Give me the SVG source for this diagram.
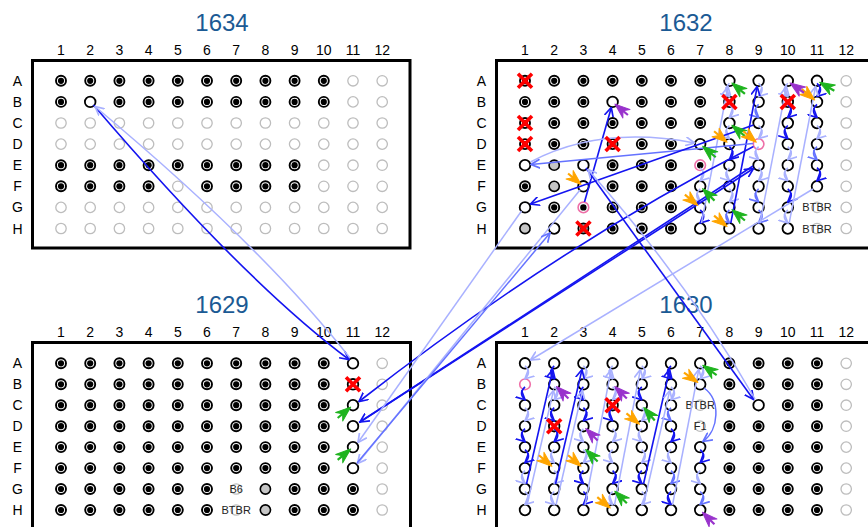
<svg xmlns="http://www.w3.org/2000/svg" width="868" height="527" viewBox="0 0 868 527">
<style>
text{font-family:"Liberation Sans",Arial,sans-serif}
.t{font-size:24px;fill:#1b5a94;text-anchor:middle}
.cl{font-size:14px;fill:#000;text-anchor:middle}
.lb{font-size:11px;fill:#222;text-anchor:middle}
.box{fill:none;stroke:#000;stroke-width:3}
#connectors path{fill:none}
.d{stroke:#1414f0;stroke-width:1.6;marker-end:url(#ad)}
.m{stroke:#6472ff;stroke-width:1.5;marker-end:url(#am)}
.l{stroke:#a9b1ff;stroke-width:1.5;marker-end:url(#al)}
.gr{fill:#1fb41f;stroke:#1fb41f}
.or{fill:#ffa500;stroke:#ffa500}
.pu{fill:#9933cc;stroke:#9933cc}
</style>
<defs>
<marker id="ad" viewBox="0 0 10 10" refX="9" refY="5" markerWidth="10" markerHeight="10" markerUnits="userSpaceOnUse" orient="auto"><path d="M0,0.5L9,5L0,9.5" fill="none" stroke="#1414f0" stroke-width="1.7"/></marker>
<marker id="am" viewBox="0 0 10 10" refX="9" refY="5" markerWidth="10" markerHeight="10" markerUnits="userSpaceOnUse" orient="auto"><path d="M0,0.5L9,5L0,9.5" fill="none" stroke="#6472ff" stroke-width="1.7"/></marker>
<marker id="al" viewBox="0 0 10 10" refX="9" refY="5" markerWidth="10" markerHeight="10" markerUnits="userSpaceOnUse" orient="auto"><path d="M0,0.5L9,5L0,9.5" fill="none" stroke="#a9b1ff" stroke-width="1.7"/></marker>
<g id="f"><circle r="5" fill="#fff" stroke="#000" stroke-width="1.9"/><circle r="3.1" fill="#000"/></g>
<circle id="o" r="5.3" fill="none" stroke="#000" stroke-width="1.8"/>
<circle id="g" r="5.2" fill="none" stroke="#bdbdbd" stroke-width="1.3"/>
<circle id="s" r="5.1" fill="#c6c6c6" stroke="#000" stroke-width="1.6"/>
<circle id="p" r="5.3" fill="none" stroke="#ee6fa8" stroke-width="1.6"/>
<g id="pd"><circle r="5.3" fill="none" stroke="#ee6fa8" stroke-width="1.6"/><circle r="3.2" fill="#000"/></g>
<path id="x" d="M-7,-7L7,7M-7,7L7,-7" stroke="#f00" stroke-width="3.6" fill="none"/>
<g id="mk"><path d="M0,0L15,-5.5L10.5,0L15,5.5Z" stroke-width="1" stroke-linejoin="round"/><path d="M2,0H17" fill="none" stroke-width="2.2"/></g>
<g id="rg"><use href="#g" x="61"/><use href="#g" x="90.2"/><use href="#g" x="119.4"/><use href="#g" x="148.6"/><use href="#g" x="177.8"/><use href="#g" x="207"/><use href="#g" x="236.2"/><use href="#g" x="265.4"/><use href="#g" x="294.6"/><use href="#g" x="323.8"/><use href="#g" x="353"/><use href="#g" x="382.2"/></g>
<g id="rf"><use href="#f" x="61"/><use href="#f" x="90.2"/><use href="#f" x="119.4"/><use href="#f" x="148.6"/><use href="#f" x="177.8"/><use href="#f" x="207"/><use href="#f" x="236.2"/><use href="#f" x="265.4"/><use href="#f" x="294.6"/><use href="#f" x="323.8"/></g>
<g id="ro"><use href="#o" x="525"/><use href="#o" x="554.2"/><use href="#o" x="583.4"/><use href="#o" x="612.6"/><use href="#o" x="641.8"/><use href="#o" x="671"/><use href="#o" x="700.2"/></g>
<g id="rf4"><use href="#f" x="729.4"/><use href="#f" x="758.6"/><use href="#f" x="787.8"/><use href="#f" x="817"/><use href="#g" x="846.2"/></g>
</defs>
<rect width="868" height="527" fill="#fff"/>

<g id="plate-1634">
<text class="t" x="222" y="30.7">1634</text>
<text class="cl" y="55"><tspan x="61">1</tspan><tspan x="90.2">2</tspan><tspan x="119.4">3</tspan><tspan x="148.6">4</tspan><tspan x="177.8">5</tspan><tspan x="207">6</tspan><tspan x="236.2">7</tspan><tspan x="265.4">8</tspan><tspan x="294.6">9</tspan><tspan x="323.8">10</tspan><tspan x="353">11</tspan><tspan x="382.2">12</tspan></text>
<text class="cl"><tspan x="17.5" y="85.8">A</tspan><tspan x="17.5" y="106.9">B</tspan><tspan x="17.5" y="128">C</tspan><tspan x="17.5" y="149.1">D</tspan><tspan x="17.5" y="170.2">E</tspan><tspan x="17.5" y="191.3">F</tspan><tspan x="17.5" y="212.4">G</tspan><tspan x="17.5" y="233.5">H</tspan></text>
<rect class="box" x="32.5" y="60.5" width="377.5" height="187.5"/>
<g transform="translate(0,80.8)"><use href="#rf"/><use href="#g" x="353"/><use href="#g" x="382.2"/></g>
<g transform="translate(0,101.9)"><use href="#f" x="61"/><use href="#o" x="90.2"/><use href="#f" x="119.4"/><use href="#f" x="148.6"/><use href="#f" x="177.8"/><use href="#f" x="207"/><use href="#f" x="236.2"/><use href="#f" x="265.4"/><use href="#f" x="294.6"/><use href="#f" x="323.8"/><use href="#g" x="353"/><use href="#g" x="382.2"/></g>
<use href="#rg" y="123"/>
<use href="#rg" y="144.1"/>
<g transform="translate(0,165.2)"><use href="#f" x="61"/><use href="#f" x="90.2"/><use href="#f" x="119.4"/><use href="#f" x="148.6"/><use href="#f" x="177.8"/><use href="#f" x="207"/><use href="#f" x="236.2"/><use href="#f" x="265.4"/><use href="#f" x="294.6"/><use href="#g" x="323.8"/><use href="#g" x="353"/><use href="#g" x="382.2"/></g>
<g transform="translate(0,186.3)"><use href="#f" x="61"/><use href="#f" x="90.2"/><use href="#f" x="119.4"/><use href="#f" x="148.6"/><use href="#g" x="177.8"/><use href="#f" x="207"/><use href="#f" x="236.2"/><use href="#f" x="265.4"/><use href="#f" x="294.6"/><use href="#g" x="323.8"/><use href="#g" x="353"/><use href="#g" x="382.2"/></g>
<use href="#rg" y="207.4"/>
<use href="#rg" y="228.5"/>
</g>

<g id="plate-1632">
<text class="t" x="686" y="30.7">1632</text>
<text class="cl" y="55"><tspan x="525">1</tspan><tspan x="554.2">2</tspan><tspan x="583.4">3</tspan><tspan x="612.6">4</tspan><tspan x="641.8">5</tspan><tspan x="671">6</tspan><tspan x="700.2">7</tspan><tspan x="729.4">8</tspan><tspan x="758.6">9</tspan><tspan x="787.8">10</tspan><tspan x="817">11</tspan><tspan x="846.2">12</tspan></text>
<text class="cl"><tspan x="481.5" y="85.8">A</tspan><tspan x="481.5" y="106.9">B</tspan><tspan x="481.5" y="128">C</tspan><tspan x="481.5" y="149.1">D</tspan><tspan x="481.5" y="170.2">E</tspan><tspan x="481.5" y="191.3">F</tspan><tspan x="481.5" y="212.4">G</tspan><tspan x="481.5" y="233.5">H</tspan></text>
<rect class="box" x="496.5" y="60.5" width="380" height="187.5"/>
<g transform="translate(0,80.8)"><use href="#f" x="525"/><use href="#f" x="554.2"/><use href="#f" x="583.4"/><use href="#f" x="612.6"/><use href="#f" x="641.8"/><use href="#f" x="671"/><use href="#f" x="700.2"/><use href="#o" x="729.4"/><use href="#o" x="758.6"/><use href="#o" x="787.8"/><use href="#o" x="817"/><use href="#g" x="846.2"/></g>
<g transform="translate(0,101.9)"><use href="#f" x="525"/><use href="#f" x="554.2"/><use href="#f" x="583.4"/><use href="#o" x="612.6"/><use href="#f" x="641.8"/><use href="#f" x="671"/><use href="#f" x="700.2"/><use href="#o" x="729.4"/><use href="#o" x="758.6"/><use href="#o" x="787.8"/><use href="#o" x="817"/><use href="#g" x="846.2"/></g>
<g transform="translate(0,123)"><use href="#f" x="525"/><use href="#f" x="554.2"/><use href="#f" x="583.4"/><use href="#f" x="612.6"/><use href="#f" x="641.8"/><use href="#f" x="671"/><use href="#f" x="700.2"/><use href="#o" x="729.4"/><use href="#o" x="758.6"/><use href="#o" x="787.8"/><use href="#o" x="817"/><use href="#g" x="846.2"/></g>
<g transform="translate(0,144.1)"><use href="#f" x="525"/><use href="#f" x="554.2"/><use href="#f" x="583.4"/><use href="#f" x="612.6"/><use href="#f" x="641.8"/><use href="#f" x="671"/><use href="#o" x="700.2"/><use href="#o" x="729.4"/><use href="#p" x="758.6"/><use href="#o" x="787.8"/><use href="#o" x="817"/><use href="#g" x="846.2"/></g>
<g transform="translate(0,165.2)"><use href="#o" x="525"/><use href="#s" x="554.2"/><use href="#o" x="583.4"/><use href="#f" x="612.6"/><use href="#f" x="641.8"/><use href="#f" x="671"/><use href="#pd" x="700.2"/><use href="#o" x="729.4"/><use href="#o" x="758.6"/><use href="#o" x="787.8"/><use href="#o" x="817"/><use href="#g" x="846.2"/></g>
<g transform="translate(0,186.3)"><use href="#f" x="525"/><use href="#s" x="554.2"/><use href="#o" x="583.4"/><use href="#f" x="612.6"/><use href="#f" x="641.8"/><use href="#f" x="671"/><use href="#o" x="700.2"/><use href="#o" x="729.4"/><use href="#o" x="758.6"/><use href="#o" x="787.8"/><use href="#o" x="817"/><use href="#g" x="846.2"/></g>
<g transform="translate(0,207.4)"><use href="#o" x="525"/><use href="#f" x="554.2"/><use href="#pd" x="583.4"/><use href="#f" x="612.6"/><use href="#f" x="641.8"/><use href="#f" x="671"/><use href="#o" x="700.2"/><use href="#o" x="729.4"/><use href="#o" x="758.6"/><use href="#o" x="787.8"/><use href="#g" x="817"/><use href="#g" x="846.2"/></g>
<g transform="translate(0,228.5)"><use href="#s" x="525"/><use href="#o" x="554.2"/><use href="#f" x="583.4"/><use href="#f" x="612.6"/><use href="#f" x="641.8"/><use href="#f" x="671"/><use href="#o" x="700.2"/><use href="#o" x="729.4"/><use href="#o" x="758.6"/><use href="#o" x="787.8"/><use href="#g" x="817"/><use href="#g" x="846.2"/></g>
<text class="lb" x="817" y="211.4">BTBR</text>
<text class="lb" x="817" y="232.5">BTBR</text>
</g>

<g id="plate-1629">
<text class="t" x="222" y="313.3">1629</text>
<text class="cl" y="337.3"><tspan x="61">1</tspan><tspan x="90.2">2</tspan><tspan x="119.4">3</tspan><tspan x="148.6">4</tspan><tspan x="177.8">5</tspan><tspan x="207">6</tspan><tspan x="236.2">7</tspan><tspan x="265.4">8</tspan><tspan x="294.6">9</tspan><tspan x="323.8">10</tspan><tspan x="353">11</tspan><tspan x="382.2">12</tspan></text>
<text class="cl"><tspan x="17.5" y="368.3">A</tspan><tspan x="17.5" y="389.3">B</tspan><tspan x="17.5" y="410.2">C</tspan><tspan x="17.5" y="431.2">D</tspan><tspan x="17.5" y="452.1">E</tspan><tspan x="17.5" y="473.1">F</tspan><tspan x="17.5" y="494">G</tspan><tspan x="17.5" y="515">H</tspan></text>
<rect class="box" x="32.5" y="342.5" width="378" height="200"/>
<g transform="translate(0,363.3)"><use href="#rf"/><use href="#o" x="353"/><use href="#g" x="382.2"/></g>
<g transform="translate(0,384.3)"><use href="#rf"/><use href="#o" x="353"/><use href="#g" x="382.2"/></g>
<g transform="translate(0,405.2)"><use href="#rf"/><use href="#o" x="353"/><use href="#g" x="382.2"/></g>
<g transform="translate(0,426.2)"><use href="#rf"/><use href="#o" x="353"/><use href="#g" x="382.2"/></g>
<g transform="translate(0,447.1)"><use href="#rf"/><use href="#o" x="353"/><use href="#g" x="382.2"/></g>
<g transform="translate(0,468.1)"><use href="#rf"/><use href="#o" x="353"/><use href="#g" x="382.2"/></g>
<g transform="translate(0,489)"><use href="#f" x="61"/><use href="#f" x="90.2"/><use href="#f" x="119.4"/><use href="#f" x="148.6"/><use href="#f" x="177.8"/><use href="#f" x="207"/><use href="#g" x="236.2"/><use href="#s" x="265.4"/><use href="#f" x="294.6"/><use href="#f" x="323.8"/><use href="#f" x="353"/><use href="#g" x="382.2"/></g>
<g transform="translate(0,510)"><use href="#f" x="61"/><use href="#f" x="90.2"/><use href="#f" x="119.4"/><use href="#f" x="148.6"/><use href="#f" x="177.8"/><use href="#f" x="207"/><use href="#g" x="236.2"/><use href="#s" x="265.4"/><use href="#f" x="294.6"/><use href="#f" x="323.8"/><use href="#f" x="353"/><use href="#g" x="382.2"/></g>
<text class="lb" x="236.2" y="493">B6</text>
<text class="lb" x="236.2" y="514">BTBR</text>
</g>

<g id="plate-1630">
<text class="t" x="686" y="313.3">1630</text>
<text class="cl" y="337.3"><tspan x="525">1</tspan><tspan x="554.2">2</tspan><tspan x="583.4">3</tspan><tspan x="612.6">4</tspan><tspan x="641.8">5</tspan><tspan x="671">6</tspan><tspan x="700.2">7</tspan><tspan x="729.4">8</tspan><tspan x="758.6">9</tspan><tspan x="787.8">10</tspan><tspan x="817">11</tspan><tspan x="846.2">12</tspan></text>
<text class="cl"><tspan x="481.5" y="368.3">A</tspan><tspan x="481.5" y="389.3">B</tspan><tspan x="481.5" y="410.2">C</tspan><tspan x="481.5" y="431.2">D</tspan><tspan x="481.5" y="452.1">E</tspan><tspan x="481.5" y="473.1">F</tspan><tspan x="481.5" y="494">G</tspan><tspan x="481.5" y="515">H</tspan></text>
<rect class="box" x="496.5" y="342.5" width="380" height="200"/>
<g transform="translate(0,363.3)"><use href="#ro"/><use href="#rf4"/></g>
<g transform="translate(0,384.3)"><use href="#p" x="525"/><use href="#o" x="554.2"/><use href="#o" x="583.4"/><use href="#o" x="612.6"/><use href="#o" x="641.8"/><use href="#o" x="671"/><use href="#o" x="700.2"/><use href="#rf4"/></g>
<g transform="translate(0,405.2)"><use href="#o" x="525"/><use href="#o" x="554.2"/><use href="#o" x="583.4"/><use href="#o" x="612.6"/><use href="#o" x="641.8"/><use href="#o" x="671"/><use href="#g" x="700.2"/><use href="#f" x="729.4"/><use href="#o" x="758.6"/><use href="#f" x="787.8"/><use href="#f" x="817"/><use href="#g" x="846.2"/></g>
<g transform="translate(0,426.2)"><use href="#o" x="525"/><use href="#o" x="554.2"/><use href="#o" x="583.4"/><use href="#o" x="612.6"/><use href="#o" x="641.8"/><use href="#o" x="671"/><use href="#g" x="700.2"/><use href="#rf4"/></g>
<g transform="translate(0,447.1)"><use href="#ro"/><use href="#rf4"/></g>
<g transform="translate(0,468.1)"><use href="#ro"/><use href="#rf4"/></g>
<g transform="translate(0,489)"><use href="#ro"/><use href="#rf4"/></g>
<g transform="translate(0,510)"><use href="#ro"/><use href="#rf4"/></g>
<text class="lb" x="700.2" y="409.2">BTBR</text>
<text class="lb" x="700.2" y="430.2">F1</text>
</g>

<g id="connectors">
<path class="l" d="M525,365.8Q532,372.3 525,378.8"/>
<path class="d" d="M525,386.8Q518,393.2 525,399.7"/>
<path class="l" d="M525,407.7Q532,414.2 525,420.7"/>
<path class="d" d="M525,428.7Q518,435.1 525,441.6"/>
<path class="d" d="M525,449.6Q532,456.1 525,462.6"/>
<path class="l" d="M525,470.6Q518,477 525,483.5"/>
<path class="l" d="M525,491.5Q532,498 525,504.5"/>
<path class="d" d="M554.2,365.8Q547.2,372.3 554.2,378.8"/>
<path class="l" d="M554.2,386.8Q561.2,393.2 554.2,399.7"/>
<path class="d" d="M554.2,407.7Q547.2,414.2 554.2,420.7"/>
<path class="d" d="M554.2,428.7Q561.2,435.1 554.2,441.6"/>
<path class="l" d="M554.2,449.6Q547.2,456.1 554.2,462.6"/>
<path class="l" d="M554.2,470.6Q561.2,477 554.2,483.5"/>
<path class="l" d="M554.2,491.5Q547.2,498 554.2,504.5"/>
<path class="l" d="M583.4,365.8Q590.4,372.3 583.4,378.8"/>
<path class="d" d="M583.4,386.8Q576.4,393.2 583.4,399.7"/>
<path class="d" d="M583.4,407.7Q590.4,414.2 583.4,420.7"/>
<path class="l" d="M583.4,428.7Q576.4,435.1 583.4,441.6"/>
<path class="l" d="M583.4,449.6Q590.4,456.1 583.4,462.6"/>
<path class="d" d="M583.4,470.6Q576.4,477 583.4,483.5"/>
<path class="d" d="M583.4,491.5Q590.4,498 583.4,504.5"/>
<path class="l" d="M612.6,365.8Q605.6,372.3 612.6,378.8"/>
<path class="l" d="M612.6,386.8Q619.6,393.2 612.6,399.7"/>
<path class="d" d="M612.6,407.7Q605.6,414.2 612.6,420.7"/>
<path class="l" d="M612.6,428.7Q619.6,435.1 612.6,441.6"/>
<path class="l" d="M612.6,449.6Q605.6,456.1 612.6,462.6"/>
<path class="d" d="M612.6,470.6Q619.6,477 612.6,483.5"/>
<path class="l" d="M612.6,491.5Q605.6,498 612.6,504.5"/>
<path class="l" d="M641.8,365.8Q648.8,372.3 641.8,378.8"/>
<path class="d" d="M641.8,386.8Q634.8,393.2 641.8,399.7"/>
<path class="l" d="M641.8,407.7Q648.8,414.2 641.8,420.7"/>
<path class="l" d="M641.8,428.7Q634.8,435.1 641.8,441.6"/>
<path class="l" d="M641.8,449.6Q648.8,456.1 641.8,462.6"/>
<path class="d" d="M641.8,470.6Q634.8,477 641.8,483.5"/>
<path class="l" d="M641.8,491.5Q648.8,498 641.8,504.5"/>
<path class="d" d="M671,365.8Q664,372.3 671,378.8"/>
<path class="l" d="M671,386.8Q678,393.2 671,399.7"/>
<path class="m" d="M671,407.7Q664,414.2 671,420.7"/>
<path class="d" d="M671,428.7Q678,435.1 671,441.6"/>
<path class="l" d="M671,449.6Q664,456.1 671,462.6"/>
<path class="m" d="M671,470.6Q678,477 671,483.5"/>
<path class="d" d="M671,491.5Q664,498 671,504.5"/>
<path class="l" d="M700.2,365.8Q707.2,372.3 700.2,378.8"/>
<path class="m" d="M704,388C721,400 719,430 703,441.5"/>
<path class="d" d="M700.2,449.6Q707.2,456.1 700.2,462.6"/>
<path class="l" d="M700.2,470.6Q693.2,477 700.2,483.5"/>
<path class="m" d="M700.2,491.5Q707.2,498 700.2,504.5"/>
<path class="d" d="M526.5,484L552.8,369.5"/>
<path class="l" d="M527,505L553.5,390.5"/>
<path class="d" d="M555.5,484L582,369.5"/>
<path class="l" d="M556,505L582.5,390.5"/>
<path class="l" d="M585,505L611.2,369.5"/>
<path class="l" d="M614.5,505L640.4,369.5"/>
<path class="d" d="M643.5,484L669.6,369.5"/>
<path class="l" d="M643.5,505L669.8,390.5"/>
<path class="l" d="M672.5,505L698.8,369.5"/>
<path class="l" d="M700.2,167.7Q707.2,174.2 700.2,180.8"/>
<path class="l" d="M700.2,188.8Q693.2,195.3 700.2,201.9"/>
<path class="d" d="M700.2,209.9Q707.2,216.4 700.2,223"/>
<path class="l" d="M729.4,83.3Q722.4,89.8 729.4,96.4"/>
<path class="l" d="M729.4,104.4Q736.4,110.9 729.4,117.5"/>
<path class="l" d="M729.4,125.5Q722.4,132 729.4,138.6"/>
<path class="d" d="M729.4,146.6Q736.4,153.1 729.4,159.7"/>
<path class="l" d="M729.4,167.7Q722.4,174.2 729.4,180.8"/>
<path class="l" d="M729.4,188.8Q736.4,195.3 729.4,201.9"/>
<path class="m" d="M729.4,209.9Q722.4,216.4 729.4,223"/>
<path class="l" d="M758.6,83.3Q765.6,89.8 758.6,96.4"/>
<path class="m" d="M758.6,104.4Q751.6,110.9 758.6,117.5"/>
<path class="l" d="M758.6,125.5Q765.6,132 758.6,138.6"/>
<path class="l" d="M758.6,146.6Q751.6,153.1 758.6,159.7"/>
<path class="l" d="M758.6,167.7Q765.6,174.2 758.6,180.8"/>
<path class="m" d="M758.6,188.8Q751.6,195.3 758.6,201.9"/>
<path class="m" d="M758.6,209.9Q765.6,216.4 758.6,223"/>
<path class="l" d="M787.8,83.3Q780.8,89.8 787.8,96.4"/>
<path class="d" d="M787.8,104.4Q794.8,110.9 787.8,117.5"/>
<path class="d" d="M787.8,125.5Q780.8,132 787.8,138.6"/>
<path class="l" d="M787.8,146.6Q794.8,153.1 787.8,159.7"/>
<path class="l" d="M787.8,167.7Q780.8,174.2 787.8,180.8"/>
<path class="d" d="M787.8,188.8Q794.8,195.3 787.8,201.9"/>
<path class="l" d="M787.8,209.9Q780.8,216.4 787.8,223"/>
<path class="d" d="M817,83.3Q824,89.8 817,96.4"/>
<path class="d" d="M817,104.4Q810,110.9 817,117.5"/>
<path class="l" d="M817,125.5Q824,132 817,138.6"/>
<path class="m" d="M817,146.6Q810,153.1 817,159.7"/>
<path class="d" d="M817,167.7Q824,174.2 817,180.8"/>
<path class="l" d="M701.5,223L728,86.5"/>
<path class="d" d="M730.8,223L757.2,86.5"/>
<path class="l" d="M760,223L786.4,86.5"/>
<path class="l" d="M789.2,223L815.6,86.5"/>
<path class="l" d="M813,189L530.5,360"/>
<path class="d" d="M584.5,202L611.3,107.5"/>
<path class="m" d="M753,143.5L531,164.5"/>
<path class="l" d="M530.5,162Q600,125 694.5,143"/>
<path class="d" d="M753.5,125L530.5,204"/>
<path class="d" d="M753.5,146.5Q560,245 359,401.5"/>
<path class="d" d="M359,422.5L753.5,168.5"/>
<path class="d" d="M753,166L360,422"/>
<path class="d" d="M586,168L753.5,399.5"/>
<path class="l" d="M755,399Q690,285 588,169.5"/>
<path class="l" d="M521.5,211L358,442.5"/>
<path class="l" d="M580,190L357.5,463.5"/>
<path class="m" d="M357,463L550,233"/>
<path class="d" d="M93.5,105Q245,282 349,359.5"/>
<path class="l" d="M350,358Q262,246 95,106.5"/>
</g>

<g id="fails">
<use href="#x" x="525" y="80.8"/>
<use href="#x" x="729.4" y="101.9"/>
<use href="#x" x="787.8" y="101.9"/>
<use href="#x" x="525" y="123"/>
<use href="#x" x="525" y="144.1"/>
<use href="#x" x="612.6" y="144.1"/>
<use href="#x" x="583.4" y="228.5"/>
<use href="#x" x="353" y="384.3"/>
<use href="#x" x="612.6" y="405.2"/>
<use href="#x" x="554.2" y="426.2"/>
</g>

<g id="marks">
<use href="#mk" class="gr" transform="translate(731.9,83) rotate(40)"/>
<use href="#mk" class="gr" transform="translate(819.6,82.3) rotate(30)"/>
<use href="#mk" class="gr" transform="translate(731.9,125.2) rotate(40)"/>
<use href="#mk" class="gr" transform="translate(702.7,146.3) rotate(40)"/>
<use href="#mk" class="gr" transform="translate(702.5,188.6) rotate(45)"/>
<use href="#mk" class="gr" transform="translate(731.9,209.6) rotate(40)"/>
<use href="#mk" class="or" transform="translate(814.7,100) rotate(-140)"/>
<use href="#mk" class="or" transform="translate(727.1,142.2) rotate(-140)"/>
<use href="#mk" class="or" transform="translate(756.3,142.2) rotate(-140)"/>
<use href="#mk" class="or" transform="translate(581.1,184.4) rotate(-140)"/>
<use href="#mk" class="or" transform="translate(697.9,205.5) rotate(-140)"/>
<use href="#mk" class="or" transform="translate(727.1,226.6) rotate(-140)"/>
<use href="#mk" class="pu" transform="translate(614.9,104.1) rotate(40)"/>
<use href="#mk" class="pu" transform="translate(790.1,83) rotate(35)"/>
<use href="#mk" class="gr" transform="translate(702.7,365.3) rotate(35)"/>
<use href="#mk" class="gr" transform="translate(643.8,407.5) rotate(50)"/>
<use href="#mk" class="gr" transform="translate(585.6,449.4) rotate(45)"/>
<use href="#mk" class="gr" transform="translate(614.8,491.2) rotate(45)"/>
<use href="#mk" class="or" transform="translate(697.9,382.4) rotate(-145)"/>
<use href="#mk" class="or" transform="translate(639.5,424.3) rotate(-140)"/>
<use href="#mk" class="or" transform="translate(551.9,466.2) rotate(-140)"/>
<use href="#mk" class="or" transform="translate(581.1,466.2) rotate(-140)"/>
<use href="#mk" class="or" transform="translate(610.3,508.1) rotate(-140)"/>
<use href="#mk" class="pu" transform="translate(556.4,386.5) rotate(45)"/>
<use href="#mk" class="pu" transform="translate(614.8,386.5) rotate(45)"/>
<use href="#mk" class="pu" transform="translate(585.6,428.4) rotate(45)"/>
<use href="#mk" class="pu" transform="translate(702.4,512.2) rotate(45)"/>
<use href="#mk" class="gr" transform="translate(350.7,407.1) rotate(140)"/>
<use href="#mk" class="gr" transform="translate(350.7,449) rotate(140)"/>
</g>
</svg>
